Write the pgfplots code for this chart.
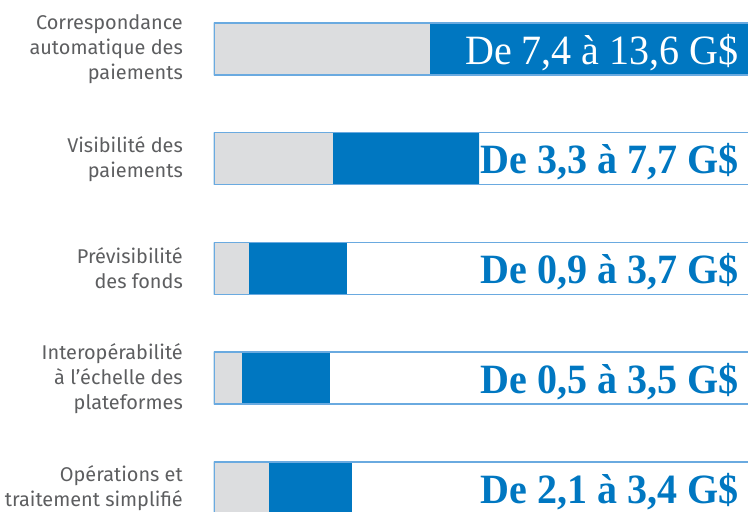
\documentclass[border=0pt]{standalone}
\usepackage{pgfplots}
\pgfplotsset{compat=1.18}
\usepackage{fontspec}
\setmainfont{Fira Sans}
\newfontfamily\valfont[FakeStretch=0.96]{Liberation Serif}
\definecolor{barblue}{HTML}{0077C1}
\definecolor{bargray}{HTML}{DCDDDF}
\definecolor{boxline}{HTML}{6AAAE0}
\definecolor{labgray}{HTML}{5D5E60}
\begin{document}
\begin{tikzpicture}
\begin{axis}[
  at={(214pt,0pt)}, anchor=south west,
  x=1pt, y=1pt, xmin=0, xmax=534, ymin=0, ymax=512,
  enlargelimits=false,
  axis line style={draw=none}, tick style={draw=none},
  xtick=\empty,
  ytick={463,353.3,243.4,133.8,24},
  yticklabels={{Correspondance\\automatique des\\paiements},{Visibilité des\\paiements},{Prévisibilité\\des fonds},{Interopérabilité\\à l’échelle des\\plateformes},{Opérations et\\traitement simplifié}},
  yticklabel style={anchor=east, inner sep=0pt, xshift=-31pt, align=right, font=\fontsize{19.9}{25}\selectfont, text=labgray},
  clip=true,
]
\addplot[xbar, bar shift=0pt, bar width=52pt, fill=barblue, draw=none] coordinates {(540,463) (265,353.3) (133,243.4) (116,133.8) (138,24)};
\addplot[xbar, bar shift=0pt, bar width=52pt, fill=bargray, draw=none] coordinates {(216,463) (119,353.3) (35,243.4) (28,133.8) (55,24)};
\addplot[xbar, bar shift=0pt, bar width=52pt, fill=none, draw=boxline, line width=1.5pt] coordinates {(540,463) (540,353.3) (540,243.4) (540,133.8) (540,24)};
\node[anchor=base east, inner sep=0pt, text=white, font=\valfont\fontsize{41.7}{45}\selectfont] at (axis cs:525,447.7) {De 7,4 à 13,6 G\$};
\node[anchor=base east, inner sep=0pt, text=barblue, font=\valfont\bfseries\fontsize{41.7}{45}\selectfont] at (axis cs:525,338) {De 3,3 à 7,7 G\$};
\node[anchor=base east, inner sep=0pt, text=barblue, font=\valfont\bfseries\fontsize{41.7}{45}\selectfont] at (axis cs:525,228.1) {De 0,9 à 3,7 G\$};
\node[anchor=base east, inner sep=0pt, text=barblue, font=\valfont\bfseries\fontsize{41.7}{45}\selectfont] at (axis cs:525,118.5) {De 0,5 à 3,5 G\$};
\node[anchor=base east, inner sep=0pt, text=barblue, font=\valfont\bfseries\fontsize{41.7}{45}\selectfont] at (axis cs:525,8.7) {De 2,1 à 3,4 G\$};
\end{axis}
\pgfresetboundingbox
\useasboundingbox (0,0) rectangle (748pt,512pt);
\end{tikzpicture}
\end{document}
